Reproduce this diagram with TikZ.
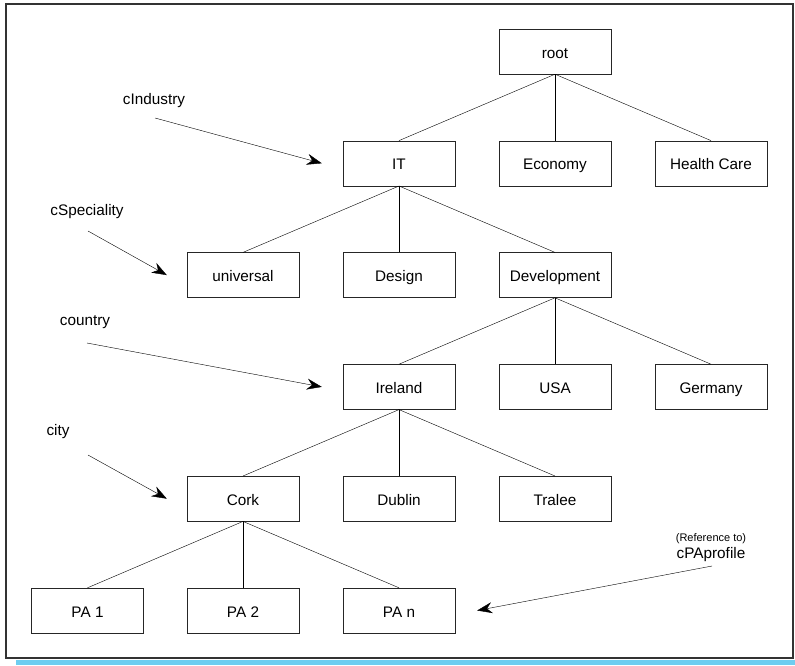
\documentclass[tikz,border=0pt]{standalone}
\usepackage{fontspec}
\setmainfont{Liberation Sans}
\usepackage{xcolor}
\usetikzlibrary{arrows.meta}
\definecolor{shadowblue}{RGB}{110,205,240}

\begin{document}
\begin{tikzpicture}[x=1pt,y=-1pt]

    %--- Styles for boxes, tags and pointers
    \tikzstyle{class node}=[draw=black!85, rectangle, minimum width=112pt, minimum height=45pt, inner sep=0pt, text height=13pt, text depth=0pt, font=\fontsize{15.3}{18}\selectfont]
    \tikzstyle{tag node}=[inner sep=0pt, font=\fontsize{15.3}{18}\selectfont]
    \tikzstyle{pointer}=[-{Stealth[length=15pt,width=11pt,inset=5pt]}]

    %--- Frame with its shadow
    \useasboundingbox (0,0) rectangle (795,665);
    \fill[shadowblue] (16,660) rectangle (795,665);
    \draw[line width=1.6pt, black!80] (6,4) rectangle (793,658);

    %--- Level 0
    \node[class node] (root) at (555,51.5) {root};

    %--- Level 1 (industry)
    \node[class node] (IT)      at (399,163.3) {IT};
    \node[class node] (Economy) at (555,163.3) {Economy};
    \node[class node] (Health)  at (711,163.3) {Health Care};

    %--- Level 2 (speciality)
    \node[class node] (Universal) at (243,275.1) {universal};
    \node[class node] (Design)    at (399,275.1) {Design};
    \node[class node] (Devel)     at (555,275.1) {Development};

    %--- Level 3 (country)
    \node[class node] (Ireland) at (399,386.9) {Ireland};
    \node[class node] (USA)     at (555,386.9) {USA};
    \node[class node] (Germany) at (711,386.9) {Germany};

    %--- Level 4 (city)
    \node[class node] (Cork)   at (243,498.7) {Cork};
    \node[class node] (Dublin) at (399,498.7) {Dublin};
    \node[class node] (Tralee) at (555,498.7) {Tralee};

    %--- Level 5 (profiles)
    \node[class node] (PA1) at (87.5,610.5) {PA 1};
    \node[class node] (PA2) at (243,610.5)  {PA 2};
    \node[class node] (PAn) at (399,610.5)  {PA n};

    %--- Tree edges
    \draw (root.south) -- (IT.north);
    \draw (root.south) -- (Economy.north);
    \draw (root.south) -- (Health.north);

    \draw (IT.south) -- (Universal.north);
    \draw (IT.south) -- (Design.north);
    \draw (IT.south) -- (Devel.north);

    \draw (Devel.south) -- (Ireland.north);
    \draw (Devel.south) -- (USA.north);
    \draw (Devel.south) -- (Germany.north);

    \draw (Ireland.south) -- (Cork.north);
    \draw (Ireland.south) -- (Dublin.north);
    \draw (Ireland.south) -- (Tralee.north);

    \draw (Cork.south) -- (PA1.north);
    \draw (Cork.south) -- (PA2.north);
    \draw (Cork.south) -- (PAn.north);

    %--- Level tags
    \node[tag node] (tIndustry)   at (154,101) {cIndustry};
    \node[tag node] (tSpeciality) at (87,212)  {cSpeciality};
    \node[tag node] (tCountry)    at (85,322)  {country};
    \node[tag node] (tCity)       at (58,432)  {city};
    \node[tag node, align=center] (tProfile) at (711,548)
        {{\fontsize{11}{12}\selectfont (Reference to)}\\[-1pt]cPAprofile};

    % tails of the pointers
    \coordinate (aIndustry)   at (155,118);
    \coordinate (aSpeciality) at (88,231);
    \coordinate (aCountry)    at (87,343);
    \coordinate (aCity)       at (88,455);
    \coordinate (aProfile)    at (712,566);

    %--- Pointers from tags to levels
    \draw[pointer] (aIndustry)   -- ([xshift=-21pt]IT.west);
    \draw[pointer] (aSpeciality) -- ([xshift=-20pt]Universal.west);
    \draw[pointer] (aCountry)    -- ([xshift=-21pt]Ireland.west);
    \draw[pointer] (aCity)       -- ([xshift=-20pt]Cork.west);
    \draw[pointer] (aProfile)    -- ([xshift=22pt]PAn.east);

\end{tikzpicture}
\end{document}
